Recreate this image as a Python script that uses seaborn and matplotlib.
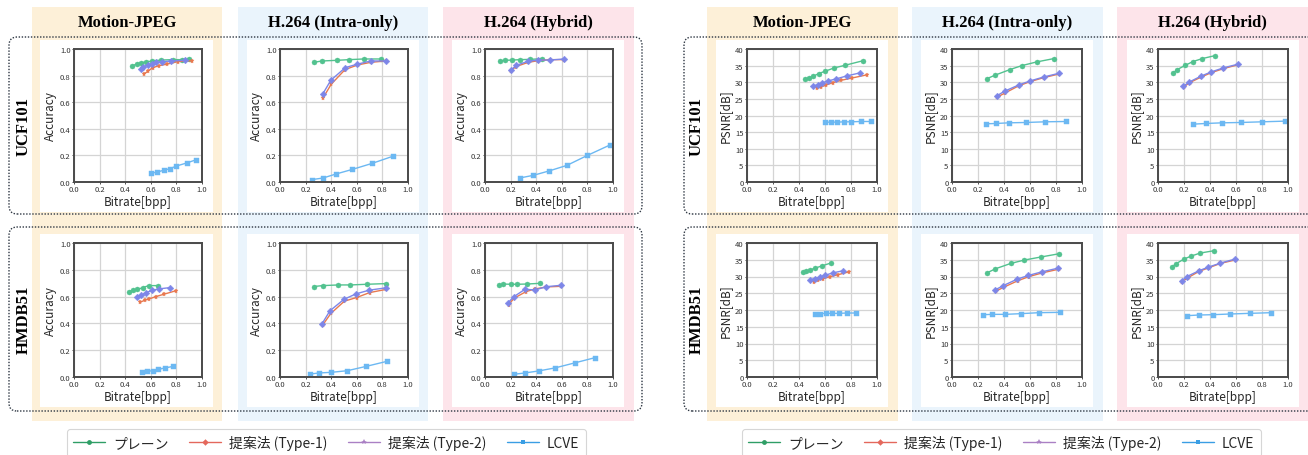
import matplotlib
matplotlib.use("Agg")
import matplotlib.pyplot as plt
import seaborn as sns
from matplotlib.patches import Rectangle, FancyBboxPatch
from matplotlib.lines import Line2D

# ---- data: (x = bitrate [bpp], y = metric) ----
# accuracy, UCF101
ucf_mjpeg_acc = {
    "plain": ([0.456, 0.49, 0.52, 0.56, 0.61, 0.68, 0.77, 0.84, 0.90],
              [0.874, 0.887, 0.897, 0.902, 0.91, 0.917, 0.92, 0.92, 0.925]),
    "type1": ([0.545, 0.58, 0.615, 0.667, 0.73, 0.81, 0.92],
              [0.81, 0.835, 0.86, 0.875, 0.887, 0.905, 0.912]),
    "type2": ([0.52, 0.54, 0.575, 0.61, 0.64, 0.69, 0.76, 0.87],
              [0.85, 0.865, 0.88, 0.89, 0.90, 0.905, 0.91, 0.915]),
    "lcve": ([0.60, 0.65, 0.70, 0.75, 0.80, 0.88, 0.957],
             [0.065, 0.075, 0.088, 0.10, 0.12, 0.143, 0.168]),
}
ucf_intra_acc = {
    "plain": ([0.265, 0.328, 0.447, 0.54, 0.653, 0.786],
              [0.90, 0.91, 0.915, 0.92, 0.925, 0.925]),
    "type1": ([0.335, 0.40, 0.508, 0.606, 0.71, 0.83],
              [0.63, 0.735, 0.845, 0.88, 0.90, 0.91]),
    "type2": ([0.333, 0.397, 0.51, 0.60, 0.71, 0.83],
              [0.66, 0.765, 0.86, 0.885, 0.91, 0.91]),
    "lcve": ([0.25, 0.336, 0.437, 0.566, 0.72, 0.886],
             [0.018, 0.03, 0.06, 0.095, 0.14, 0.195]),
}
ucf_hybrid_acc = {
    "plain": ([0.12, 0.153, 0.214, 0.276, 0.349, 0.444],
              [0.912, 0.915, 0.917, 0.92, 0.922, 0.927]),
    "type1": ([0.20, 0.24, 0.338, 0.416, 0.509, 0.62],
              [0.835, 0.867, 0.90, 0.912, 0.92, 0.92]),
    "type2": ([0.20, 0.245, 0.333, 0.413, 0.509, 0.617],
              [0.84, 0.877, 0.907, 0.917, 0.917, 0.925]),
    "lcve": ([0.27, 0.377, 0.50, 0.64, 0.80, 0.98],
             [0.03, 0.05, 0.083, 0.125, 0.20, 0.28]),
}
# accuracy, HMDB51
hmdb_mjpeg_acc = {
    "plain": ([0.432, 0.464, 0.495, 0.536, 0.583, 0.654],
              [0.638, 0.65, 0.653, 0.667, 0.682, 0.682]),
    "type1": ([0.518, 0.552, 0.588, 0.64, 0.703, 0.794],
              [0.558, 0.573, 0.583, 0.60, 0.618, 0.643]),
    "type2": ([0.49, 0.526, 0.56, 0.61, 0.667, 0.75],
              [0.595, 0.61, 0.628, 0.647, 0.658, 0.667]),
    "lcve": ([0.529, 0.568, 0.615, 0.659, 0.708, 0.773],
             [0.037, 0.042, 0.047, 0.057, 0.067, 0.079]),
}
hmdb_intra_acc = {
    "plain": ([0.262, 0.333, 0.455, 0.55, 0.677, 0.828],
              [0.675, 0.682, 0.687, 0.687, 0.692, 0.697]),
    "type1": ([0.333, 0.397, 0.503, 0.598, 0.70, 0.825],
              [0.387, 0.474, 0.566, 0.593, 0.63, 0.653]),
    "type2": ([0.325, 0.39, 0.50, 0.593, 0.696, 0.825],
              [0.392, 0.494, 0.58, 0.62, 0.648, 0.665]),
    "lcve": ([0.235, 0.304, 0.402, 0.526, 0.672, 0.836],
             [0.022, 0.03, 0.035, 0.047, 0.079, 0.117]),
}
hmdb_hybrid_acc = {
    "plain": ([0.112, 0.138, 0.20, 0.252, 0.33, 0.429],
              [0.684, 0.694, 0.692, 0.692, 0.694, 0.699]),
    "type1": ([0.184, 0.229, 0.32, 0.39, 0.48, 0.597],
              [0.541, 0.589, 0.637, 0.657, 0.672, 0.677]),
    "type2": ([0.18, 0.226, 0.312, 0.392, 0.48, 0.59],
              [0.554, 0.60, 0.654, 0.65, 0.674, 0.684]),
    "lcve": ([0.223, 0.312, 0.418, 0.548, 0.70, 0.862],
             [0.02, 0.03, 0.045, 0.068, 0.105, 0.145]),
}
# PSNR, UCF101
ucf_mjpeg_psnr = {
    "plain": ([0.449, 0.479, 0.51, 0.551, 0.60, 0.67, 0.754, 0.895],
              [31.0, 31.4, 31.8, 32.6, 33.3, 34.3, 35.1, 36.5]),
    "type1": ([0.538, 0.572, 0.61, 0.662, 0.726, 0.81, 0.92],
              [28.3, 28.6, 29.2, 29.9, 30.6, 31.3, 32.2]),
    "type2": ([0.508, 0.544, 0.577, 0.623, 0.685, 0.767, 0.867],
              [28.9, 29.2, 29.8, 30.4, 31.0, 31.9, 32.8]),
    "lcve": ([0.597, 0.649, 0.695, 0.749, 0.803, 0.874, 0.951],
             [18.0, 18.0, 18.0, 18.1, 18.1, 18.2, 18.2]),
}
ucf_intra_psnr = {
    "plain": ([0.27, 0.329, 0.445, 0.537, 0.65, 0.781],
              [31.1, 32.1, 33.8, 35.0, 36.1, 37.1]),
    "type1": ([0.347, 0.409, 0.512, 0.601, 0.707, 0.825],
              [25.5, 26.8, 28.9, 30.2, 31.4, 32.5]),
    "type2": ([0.344, 0.404, 0.514, 0.601, 0.707, 0.823],
              [25.9, 27.3, 29.2, 30.4, 31.6, 32.7]),
    "lcve": ([0.26, 0.337, 0.44, 0.568, 0.715, 0.874],
             [17.5, 17.6, 17.8, 17.9, 18.1, 18.2]),
}
ucf_hybrid_psnr = {
    "plain": ([0.116, 0.147, 0.211, 0.267, 0.339, 0.437],
              [32.7, 33.8, 35.1, 36.2, 37.1, 38.0]),
    "type1": ([0.198, 0.244, 0.334, 0.411, 0.504, 0.617],
              [28.6, 29.9, 31.6, 32.9, 34.1, 35.3]),
    "type2": ([0.195, 0.242, 0.334, 0.409, 0.501, 0.612],
              [28.8, 30.1, 31.9, 33.1, 34.3, 35.4]),
    "lcve": ([0.27, 0.368, 0.496, 0.635, 0.80, 0.974],
             [17.4, 17.6, 17.8, 17.9, 18.1, 18.3]),
}
# PSNR, HMDB51
hmdb_mjpeg_psnr = {
    "plain": ([0.431, 0.456, 0.487, 0.526, 0.577, 0.644],
              [31.2, 31.6, 32.0, 32.5, 33.2, 34.0]),
    "type1": ([0.513, 0.549, 0.587, 0.636, 0.697, 0.785],
              [28.5, 28.9, 29.4, 29.9, 30.5, 31.4]),
    "type2": ([0.487, 0.52, 0.559, 0.603, 0.662, 0.738],
              [29.0, 29.4, 29.8, 30.4, 31.1, 31.7]),
    "lcve": ([0.521, 0.564, 0.608, 0.654, 0.705, 0.769, 0.841],
             [18.9, 18.9, 19.0, 19.0, 19.0, 19.1, 19.1]),
}
hmdb_intra_psnr = {
    "plain": ([0.27, 0.334, 0.452, 0.555, 0.681, 0.825],
              [31.1, 32.3, 33.9, 34.9, 35.8, 36.8]),
    "type1": ([0.337, 0.398, 0.504, 0.594, 0.697, 0.823],
              [25.6, 26.8, 28.7, 30.0, 31.1, 32.2]),
    "type2": ([0.332, 0.39, 0.501, 0.586, 0.692, 0.817],
              [26.0, 27.2, 29.2, 30.3, 31.4, 32.5]),
    "lcve": ([0.237, 0.311, 0.406, 0.527, 0.668, 0.83],
             [18.6, 18.7, 18.7, 18.9, 19.2, 19.3]),
}
hmdb_hybrid_psnr = {
    "plain": ([0.106, 0.138, 0.20, 0.255, 0.325, 0.431],
              [32.8, 33.8, 35.2, 36.1, 37.0, 37.7]),
    "type1": ([0.187, 0.229, 0.314, 0.39, 0.48, 0.60],
              [28.5, 29.6, 31.5, 32.6, 33.9, 35.0]),
    "type2": ([0.182, 0.223, 0.314, 0.387, 0.48, 0.592],
              [28.7, 30.0, 31.7, 32.8, 34.0, 35.2]),
    "lcve": ([0.221, 0.312, 0.421, 0.551, 0.704, 0.87],
             [18.3, 18.5, 18.6, 18.8, 19.0, 19.2]),
}

codecs = ["Motion-JPEG", "H.264 (Intra-only)", "H.264 (Hybrid)"]
datasets = ["UCF101", "HMDB51"]
legend_labels = ["プレーン", "提案法 (Type-1)", "提案法 (Type-2)", "LCVE"]

acc_panels = [[ucf_mjpeg_acc, ucf_intra_acc, ucf_hybrid_acc],
              [hmdb_mjpeg_acc, hmdb_intra_acc, hmdb_hybrid_acc]]
psnr_panels = [[ucf_mjpeg_psnr, ucf_intra_psnr, ucf_hybrid_psnr],
               [hmdb_mjpeg_psnr, hmdb_intra_psnr, hmdb_hybrid_psnr]]

# plot styles (as drawn in the panels)
series_style = {
    "plain": dict(color="#52c28f", marker="o", markersize=3.6),
    "type1": dict(color="#e8784f", marker="*", markersize=3.6),
    "type2": dict(color="#7d86e8", marker="D", markersize=3.4),
    "lcve": dict(color="#6cb8f2", marker="s", markersize=3.6),
}
# legend handles (as drawn in the legend box)
legend_style = [
    dict(color="#2f9e66", marker="o", markersize=3.5),
    dict(color="#e4685c", marker="D", markersize=3.3),
    dict(color="#aa80c4", marker="*", markersize=4.0),
    dict(color="#3a9ee4", marker="s", markersize=3.5),
]

col_bg = ["#fdf0d8", "#eaf4fc", "#fde4ea"]

sns.set_theme(style="whitegrid")
plt.rcParams["font.family"] = ["Noto Sans CJK JP", "DejaVu Sans"]

W, H = 1308, 456
fig = plt.figure(figsize=(W / 100, H / 100), dpi=100)
fig.patch.set_facecolor("white")


def to_ax(x0, y0, x1, y1):
    return [x0 / W, 1 - y1 / H, (x1 - x0) / W, (y1 - y0) / H]


def add_rect(x0, y0, x1, y1, **kw):
    p = Rectangle((x0 / 100, (H - y1) / 100), (x1 - x0) / 100, (y1 - y0) / 100,
                  transform=fig.dpi_scale_trans, **kw)
    fig.patches.append(p)


def add_dotted_box(x0, y0, x1, y1):
    p = FancyBboxPatch((x0 / 100, (H - y1) / 100), (x1 - x0) / 100, (y1 - y0) / 100,
                       boxstyle="round,pad=0,rounding_size=0.08",
                       transform=fig.dpi_scale_trans, fill=False,
                       edgecolor="#2b3440", linewidth=1.0, linestyle=(0, (1, 1.2)),
                       zorder=3)
    fig.patches.append(p)


halves = [
    dict(metric="acc", cols=[(32, 222), (238, 428), (443, 634)],
         white=[(40, 213), (247, 419), (452, 624)],
         axes=[(74, 202), (280, 408), (485, 613)],
         box=(9, 642), label_x=24, legend_x=67),
    dict(metric="psnr", cols=[(707, 898), (912, 1103), (1117, 1308)],
         white=[(716, 888), (921, 1093), (1127, 1299)],
         axes=[(747, 877), (952, 1082), (1158, 1288)],
         box=(684, 1330), label_x=697, legend_x=742),
]
row_white = [(41, 213), (235, 408)]
row_axes = [(50, 183), (244, 378)]
row_box = [(38, 215), (228, 412)]

for half in halves:
    panels = acc_panels if half["metric"] == "acc" else psnr_panels
    for j, (cx0, cx1) in enumerate(half["cols"]):
        add_rect(cx0, 8, cx1, 422, facecolor=col_bg[j], edgecolor="none", zorder=-3)
        fig.text((cx0 + cx1) / 2 / W, 1 - 23 / H, codecs[j], ha="center", va="center",
                 fontsize=12, fontweight="bold", family="Liberation Serif", color="black")
    for i in range(2):
        add_dotted_box(half["box"][0], row_box[i][0], half["box"][1], row_box[i][1])
        fig.text(half["label_x"] / W, 1 - (row_box[i][0] + row_box[i][1]) / 2 / H,
                 datasets[i], rotation=90, ha="center", va="center",
                 fontsize=12, fontweight="bold", family="Liberation Serif", color="black")
        for j in range(3):
            wx0, wx1 = half["white"][j]
            add_rect(wx0, row_white[i][0], wx1, row_white[i][1],
                     facecolor="white", edgecolor="none", zorder=-2)
            ax0, ax1 = half["axes"][j]
            ax = fig.add_axes(to_ax(ax0, row_axes[i][0], ax1, row_axes[i][1]))
            data = panels[i][j]
            for key, (xs, ys) in data.items():
                st = series_style[key]
                sns.lineplot(x=xs, y=ys, ax=ax, color=st["color"], marker=st["marker"],
                             markersize=st["markersize"], markeredgecolor=st["color"],
                             markeredgewidth=0.3, linewidth=1.0, sort=False,
                             estimator=None, legend=False)
            ax.set_xlim(0, 1)
            ax.set_xticks([0, 0.2, 0.4, 0.6, 0.8, 1.0])
            if half["metric"] == "acc":
                ax.set_ylim(0, 1)
                ax.set_yticks([0, 0.2, 0.4, 0.6, 0.8, 1.0])
                ax.set_yticklabels(["0.0", "0.2", "0.4", "0.6", "0.8", "1.0"])
                ax.set_ylabel("Accuracy", fontsize=8.5, labelpad=2)
            else:
                ax.set_ylim(0, 40)
                ax.set_yticks(range(0, 45, 5))
                ax.set_ylabel("PSNR[dB]", fontsize=8.5, labelpad=2)
            ax.set_xticklabels(["0.0", "0.2", "0.4", "0.6", "0.8", "1.0"])
            ax.set_xlabel("Bitrate[bpp]", fontsize=8.5, labelpad=1)
            ax.tick_params(labelsize=5.5, length=1.5, width=0.6, pad=1,
                           colors="#333333", left=True, bottom=True)
            ax.set_facecolor("white")
            ax.grid(True, color="#d4d4d4", linewidth=0.9)
            for s in ax.spines.values():
                s.set_color("#4a4a4a")
                s.set_linewidth(1.4)

    handles = [Line2D([], [], linewidth=1.0, markeredgewidth=0, **st) for st in legend_style]
    leg = fig.legend(handles, legend_labels, loc="upper left", ncol=4,
                     bbox_to_anchor=(half["legend_x"] / W, 1 - 430 / H),
                     borderaxespad=0, fontsize=10, frameon=True, handlelength=2.3,
                     handletextpad=0.6, columnspacing=1.45, borderpad=0.45)
    leg.get_frame().set_edgecolor("#cccccc")
    leg.get_frame().set_linewidth(0.8)

fig.savefig("out.png", dpi=100)
